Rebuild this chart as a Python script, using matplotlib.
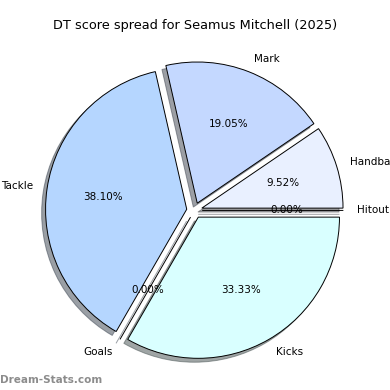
import matplotlib
matplotlib.use('Agg')
import matplotlib.pyplot as plt

# chart data
categories = ['Handball', 'Mark', 'Tackle', 'Goals', 'Kicks', 'Hitout']
scores = [9.52, 19.05, 38.10, 0.0, 33.33, 0.0]
colors = ['#e9f0ff', '#c4d8ff', '#b5d6ff', '#b5d6ff', '#d9ffff', '#e9f0ff']
title = 'DT score spread for Seamus Mitchell (2025)'


def draw_pie():
    fig = plt.figure(figsize=(3.9, 3.9), dpi=100)
    ax = fig.add_axes([0.046, 0.008, 0.905, 0.905])
    explode = [0.055] * len(scores)
    wedges, texts, autotexts = ax.pie(
        scores, labels=categories, colors=colors, explode=explode,
        autopct='%1.2f%%', shadow=True, startangle=0,
        labeldistance=1.1,
        wedgeprops={'edgecolor': 'black', 'linewidth': 0.7},
        textprops={'fontsize': 7.5})
    ax.set_aspect('equal')
    fig.text(0.5, 0.935, title, ha='center', va='center', fontsize=9.3)
    fig.text(0.0, 0.025, 'Dream-Stats.com', ha='left', va='center',
             fontsize=7.5, color='#8c8c8c', fontweight='bold')
    fig.savefig('out.png', dpi=100)


draw_pie()
